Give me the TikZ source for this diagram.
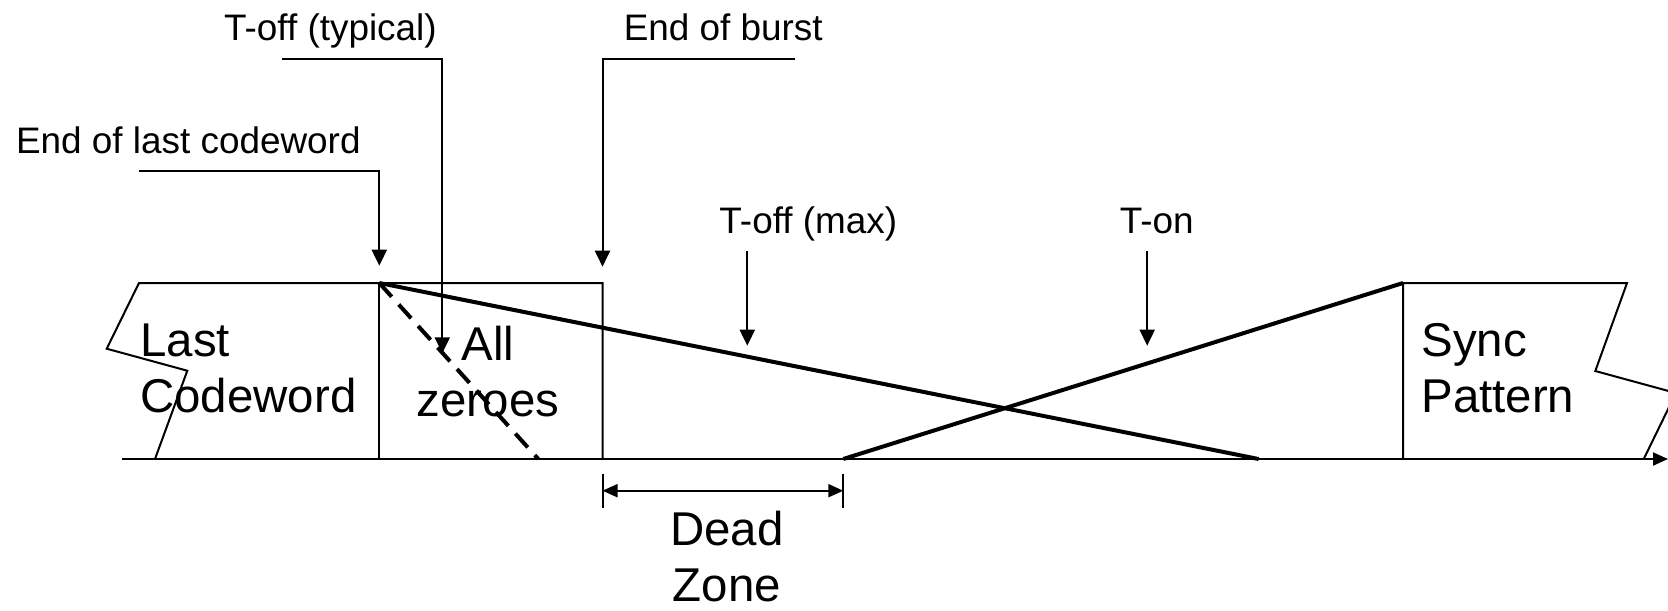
\documentclass[tikz,border=0pt]{standalone}
\usepackage{fontspec}
\setmainfont{Liberation Sans}
\usetikzlibrary{arrows.meta}

\begin{document}
\begin{tikzpicture}[x=0.02cm, y=-0.02cm,
    box/.style={line width=0.04cm, line join=miter},
    ramp/.style={line width=0.08cm},
    pointer/.style={line width=0.04cm, -{Triangle[length=0.32cm, width=0.3cm]}},
    span/.style={line width=0.04cm, {Triangle[length=0.3cm, width=0.26cm]}-{Triangle[length=0.3cm, width=0.26cm]}},
    small/.style={inner sep=0, anchor=base west, font=\fontsize{21}{25}\selectfont},
    big/.style={inner sep=0, anchor=base west, align=left, font=\fontsize{27}{32.1}\selectfont}]
    \useasboundingbox (0,0) rectangle (1668,610) ;
    \clip (0,0) rectangle (1668,610) ;
    % time axis and blocks
    \coordinate (axs) at (122,459) ;
    \coordinate (axe) at (1668,459) ;
    \coordinate (cw) at (139,283) ;
    \coordinate (eoc) at (379.3,283) ;
    \coordinate (eob) at (602.5,283) ;
    \coordinate (sp) at (1403,283) ;
    \coordinate (spe) at (1627,283) ;
    \draw [box, -{Triangle[length=0.3cm, width=0.26cm]}] (axs) -- (axe) ;
    \draw [box] (155,459) -- ++(32.3,-88.3) -- ++(-80.6,-22) -- (cw) -- (eob) -- (eob |- axs) ;
    \draw [box] (eoc) -- (eoc |- axs) ;
    \draw [box] (sp |- axs) -- (sp) -- (spe) -- ++(-31.7,88) -- ++(80.6,22) -- ++(-32.3,66.3) ;
    \node [big] (last) at (140,412.7) {Last\\Codeword} ;
    \node [big, align=center, anchor=base] (zero) at (488,416.7) {All\\zeroes} ;
    \node [big] (sync) at (1421,412.7) {Sync\\Pattern} ;
    % turn-off and turn-on ramps
    \coordinate (offtyp) at (538.3,459) ;
    \coordinate (offmax) at (1258.6,459) ;
    \coordinate (on) at (843.3,459) ;
    \draw [ramp] (eoc) -- (offmax) ;
    \draw [ramp, dash pattern=on 0.37cm off 0.21cm] (eoc) -- (offtyp) ;
    \draw [ramp] (on) -- (sp) ;
    % dead zone
    \coordinate (dz1) at (602.5,490.7) ;
    \coordinate (dz2) at (843.3,490.7) ;
    \draw [box] (dz1) ++(0,-17) -- ++(0,34) ;
    \draw [box] (dz2) ++(0,-17) -- ++(0,34) ;
    \draw [span] (dz1) -- (dz2) ;
    \node [big, align=center, anchor=base] (dead) at (726.7,601.5) {Dead\\Zone} ;
    % labels
    \node [small] (lcw) at (15.7,153) {End of last codeword} ;
    \node [small] (typ) at (223.8,40) {T-off (typical)} ;
    \node [small] (burst) at (623.4,40) {End of burst} ;
    \node [small] (max) at (719.1,233) {T-off (max)} ;
    \node [small] (ton) at (1119.5,233) {T-on} ;
    \coordinate (lcw-in) at (138.6,171) ;
    \coordinate (lcw-tip) at (379.3,265.7) ;
    \coordinate (typ-in) at (282.4,59) ;
    \coordinate (typ-tip) at (442.3,353.3) ;
    \coordinate (burst-in) at (795,59) ;
    \coordinate (burst-tip) at (602.5,266.7) ;
    \coordinate (max-in) at (747.3,250.7) ;
    \coordinate (max-tip) at (747.3,345.7) ;
    \coordinate (ton-in) at (1147.2,250.7) ;
    \coordinate (ton-tip) at (1147.2,345.7) ;
    \draw [pointer] (lcw-in) -| (lcw-tip) ;
    \draw [pointer] (typ-in) -| (typ-tip) ;
    \draw [pointer] (burst-in) -| (burst-tip) ;
    \draw [pointer] (max-in) -- (max-tip) ;
    \draw [pointer] (ton-in) -- (ton-tip) ;
\end{tikzpicture}
\end{document}
